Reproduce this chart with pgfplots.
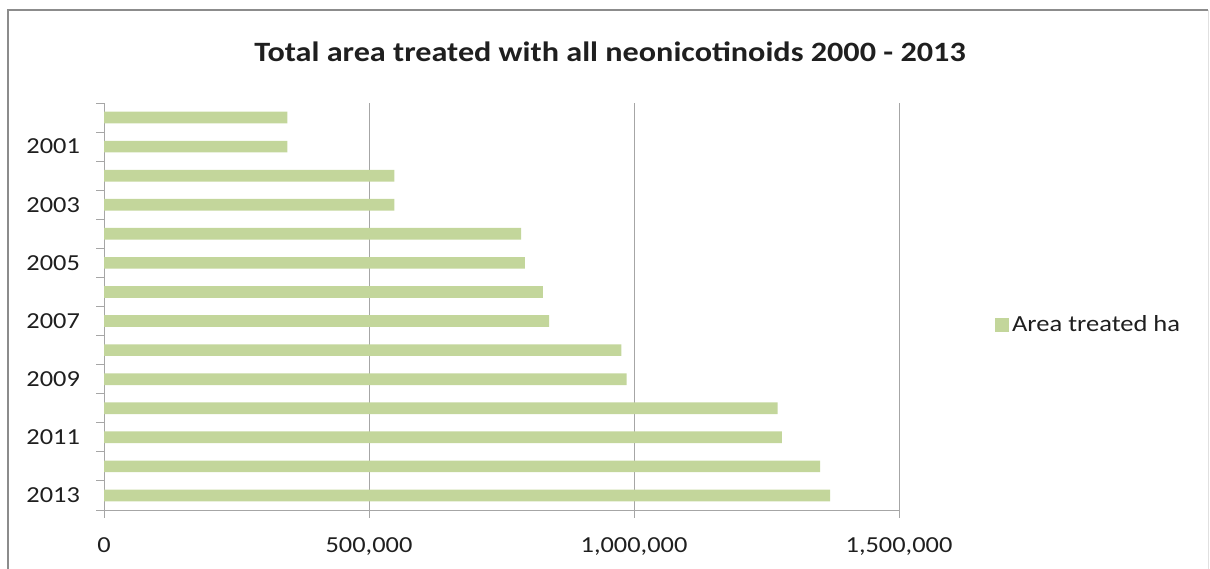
\documentclass[border=0pt]{standalone}
\usepackage{fontspec}
\setmainfont{Carlito}[FakeStretch=1.15]
\usepackage{pgfplots}
\pgfplotsset{compat=1.18}
\definecolor{bargreen}{HTML}{C3D69B}
\definecolor{gridgray}{HTML}{A6A6A6}
\definecolor{framegray}{HTML}{8C8C8C}
\definecolor{txt}{HTML}{1F1F1F}

\begin{document}
\begin{tikzpicture}
\path[use as bounding box] (0,0) rectangle (907.5pt,426pt);
% chart frame (bottom edge is cut off in the reference)
\draw[framegray, line width=1.5pt] (6pt,-5pt) -- (6pt,418.5pt) -- (906pt,418.5pt);
\draw[black!12, line width=0.75pt] (906.6pt,418.5pt) -- (906.6pt,-5pt);
\node[font=\fontsize{21}{24}\selectfont\bfseries, text=txt] at (457.5pt,387.5pt)
  {Total area treated with all neonicotinoids 2000 - 2013};
\begin{axis}[
    at={(78pt,43.5pt)}, anchor=south west,
    scale only axis,
    width=596.25pt, height=305.25pt,
    xbar, bar width=8.75pt,
    xmin=0, xmax=1500000,
    ymin=1999.5, ymax=2013.5, y dir=reverse,
    axis x line*=bottom, axis y line*=left,
    axis line style={gridgray, line width=0.75pt},
    xtick={0,500000,1000000,1500000},
    scaled x ticks=false,
    xticklabel style={/pgf/number format/fixed, /pgf/number format/precision=0,
        /pgf/number format/1000 sep={,}, yshift=-11pt},
    /pgf/number format/assume math mode=true,
    ytick={2001,2003,2005,2007,2009,2011,2013},
    yticklabels={2001,2003,2005,2007,2009,2011,2013},
    minor ytick={1999.5,2000.5,...,2013.5},
    tick align=outside,
    major tick length=6pt, minor tick length=6pt,
    major x tick style={gridgray, line width=0.75pt},
    major y tick style={draw=none},
    minor y tick style={gridgray, line width=0.75pt},
    xmajorgrids,
    major grid style={gridgray, line width=0.75pt},
    tick label style={font=\fontsize{17.2}{19}\selectfont, text=txt},
    yticklabel style={xshift=-8.5pt},
    legend style={at={(1.121,0.455)}, anchor=west, draw=none, fill=none,
        inner sep=0pt, font=\fontsize{17.3}{19}\selectfont, text=txt},
    legend image code/.code={\fill[bargreen] (0pt,-5.25pt) rectangle (10.5pt,5.25pt);},
    clip=false,
]
\addplot[fill=bargreen, draw=none] coordinates {
    (346000,2000) (346000,2001) (548000,2002) (548000,2003)
    (787000,2004) (794000,2005) (828000,2006) (840000,2007)
    (976000,2008) (986000,2009) (1271000,2010) (1279000,2011)
    (1351000,2012) (1370000,2013)
};
\addlegendentry{Area treated ha}
\end{axis}
\end{tikzpicture}
\end{document}
